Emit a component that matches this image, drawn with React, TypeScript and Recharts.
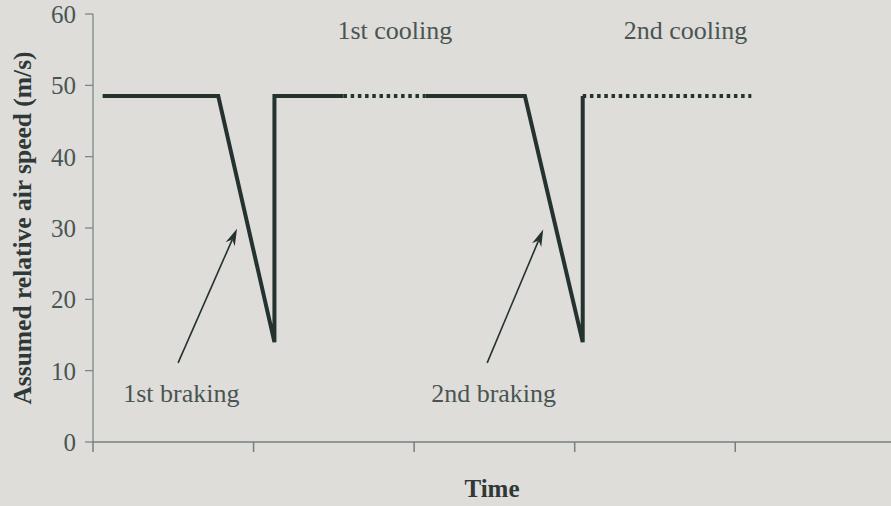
import { LineChart, Line, XAxis, YAxis, ReferenceDot, ReferenceLine, Label } from 'recharts'

// time steps (arbitrary units) and air speed in m/s
const time = [0.6, 7.8, 11.3, 11.3, 15.6, 20.7, 20.7, 26.9, 30.5, 30.5, 41.0]
const braking = [48.5, 48.5, 14, 48.5, 48.5, null, 48.5, 48.5, 14, 48.5, null]
const cooling = [null, null, null, null, 48.5, 48.5, null, null, null, 48.5, 48.5]

const yTicks = [0, 10, 20, 30, 40, 50, 60]
const xTicks = [0, 10, 20, 30, 40]

// phase captions, placed in data units
const phaseNames = ['1st cooling', '2nd cooling', '1st braking', '2nd braking']
const phaseTime = [18.8, 36.9, 5.5, 24.95]
const phaseSpeed = [57.8, 57.8, 6.9, 6.9]

// arrows from the braking captions to the deceleration ramps
const arrowFromTime = [5.3, 24.55]
const arrowFromSpeed = [11.1, 11.1]
const arrowToTime = [8.97, 28.04]
const arrowToSpeed = [29.9, 29.8]

const data = time.map((t, i) => ({ t, braking: braking[i], cooling: cooling[i] }))

const FONT = '"Liberation Serif", "Times New Roman", serif'
const INK = '#243230'
const TEXT = '#4a5553'
const AXIS = '#76807e'

function Arrow(props: any) {
  const { x1, y1, x2, y2 } = props
  const len = Math.hypot(x2 - x1, y2 - y1)
  const ux = (x2 - x1) / len
  const uy = (y2 - y1) / len
  const head = 17
  const half = 5
  const bx = x2 - ux * head
  const by = y2 - uy * head
  const nx = x2 - ux * head * 0.7
  const ny = y2 - uy * head * 0.7
  const pts = [
    [x2, y2],
    [bx - uy * half, by + ux * half],
    [nx, ny],
    [bx + uy * half, by - ux * half],
  ]
  return (
    <g>
      <line x1={x1} y1={y1} x2={nx} y2={ny} stroke={INK} strokeWidth={1.6} />
      <polygon points={pts.map((p) => p.join(',')).join(' ')} fill={INK} />
    </g>
  )
}

export default function App() {
  return (
    <div style={{ position: 'absolute', left: 0, top: 0, width: 891, height: 506, background: '#dedddA' }}>
      <LineChart width={891} height={506} data={data} margin={{ top: 14, right: 0, bottom: 0, left: 0 }}>
        <XAxis
          dataKey="t"
          type="number"
          domain={[0, 49.7]}
          ticks={xTicks}
          tick={() => <g />}
          tickSize={10}
          height={64}
          stroke={AXIS}
          strokeWidth={1.5}
        >
          <Label
            content={({ viewBox }: any) => (
              <text
                x={viewBox.x + viewBox.width / 2}
                y={viewBox.y + 55}
                textAnchor="middle"
                fontFamily={FONT}
                fontWeight="bold"
                fontSize={25}
                fill="#2f3836"
              >
                Time
              </text>
            )}
          />
        </XAxis>
        <YAxis
          type="number"
          domain={[0, 60]}
          ticks={yTicks}
          width={93}
          tickSize={8}
          tickMargin={9}
          stroke={AXIS}
          strokeWidth={1.2}
          tick={{ fontFamily: FONT, fontSize: 25, fill: TEXT }}
        >
          <Label
            content={({ viewBox }: any) => {
              const cx = viewBox.x + 22
              const cy = viewBox.y + viewBox.height / 2
              return (
                <text
                  x={cx}
                  y={cy}
                  transform={`rotate(-90, ${cx}, ${cy})`}
                  textAnchor="middle"
                  dominantBaseline="central"
                  fontFamily={FONT}
                  fontWeight="bold"
                  fontSize={25.5}
                  fill="#2f3836"
                >
                  Assumed relative air speed (m/s)
                </text>
              )
            }}
          />
        </YAxis>
        <Line
          dataKey="cooling"
          stroke={INK}
          strokeWidth={4}
          strokeDasharray="3.5 3.7"
          dot={false}
          activeDot={false}
          isAnimationActive={false}
        />
        <Line
          dataKey="braking"
          type="linear"
          stroke={INK}
          strokeWidth={4}
          strokeLinejoin="miter"
          dot={false}
          activeDot={false}
          isAnimationActive={false}
        />
        {arrowFromTime.map((t, i) => (
          <ReferenceLine
            key={'arrow' + i}
            segment={[
              { x: t, y: arrowFromSpeed[i] },
              { x: arrowToTime[i], y: arrowToSpeed[i] },
            ]}
            shape={Arrow}
          />
        ))}
        {phaseNames.map((name, i) => (
          <ReferenceDot
            key={name}
            x={phaseTime[i]}
            y={phaseSpeed[i]}
            r={0}
            fill="none"
            stroke="none"
            label={{ value: name, position: 'center', fontFamily: FONT, fontSize: 26, fill: TEXT }}
          />
        ))}
      </LineChart>
    </div>
  )
}
